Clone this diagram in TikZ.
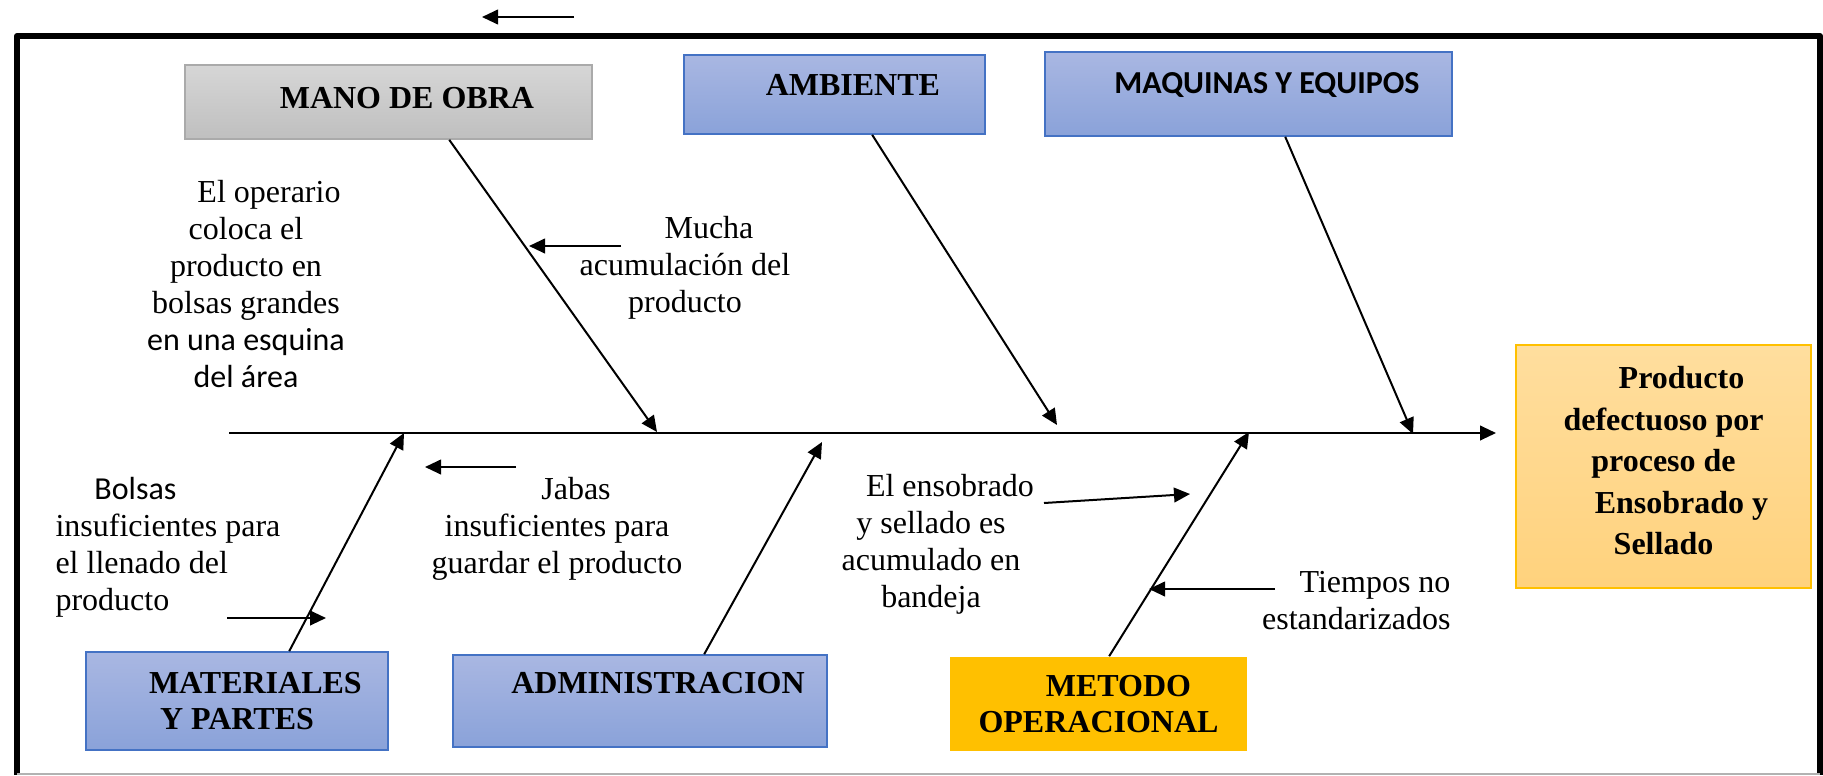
\documentclass[tikz,border=0pt]{standalone}
\usepackage{fontspec}
\setmainfont{Liberation Serif}
\newfontfamily\calibri{Carlito}
\usetikzlibrary{arrows.meta}

\definecolor{azularriba}{HTML}{A9B7E2}
\definecolor{azulabajo}{HTML}{8AA2D9}
\definecolor{azulborde}{HTML}{4472C4}
\definecolor{grisarriba}{HTML}{D6D6D6}
\definecolor{grisabajo}{HTML}{BFBFBF}
\definecolor{grisborde}{HTML}{AAAAAA}
\definecolor{naranjaarriba}{HTML}{FFDE9E}
\definecolor{naranjaabajo}{HTML}{FFD27D}
\definecolor{ambar}{HTML}{FFC000}

\begin{document}
\begin{tikzpicture}[x=0.375pt, y=-0.375pt,
    bone/.style={line width=0.75pt, -{Triangle[length=6pt,width=5.5pt]}},
    causa/.style={inner sep=0pt, align=center, font=\fontsize{12}{13.9}\selectfont},
    caja/.style={inner sep=0pt, line width=0.6pt, font=\bfseries\fontsize{12}{13.5}\selectfont},
    cajaazul/.style={caja, draw=azulborde, top color=azularriba, bottom color=azulabajo},
    cajagris/.style={caja, draw=grisborde, top color=grisarriba, bottom color=grisabajo}]
    \useasboundingbox (0,0) rectangle (1823,775);

    % marco
    \draw[line width=2.2pt, line join=round] (17,775) -- (17,36) -- (1820,36) -- (1820,775);
    \draw[gray!60, line width=0.8pt] (17,774) -- (1820,774);
    \coordinate (s1) at (574,17);
    \coordinate (s2) at (482,17);
    \draw[bone] (s1) -- (s2);

    % categorias de arriba
    \node[cajagris, minimum width=152.6pt, text height=16.31pt, text depth=11.44pt] (obra) at (388.5,102) {\hspace*{13.8pt}MANO DE OBRA};
    \node[cajaazul, minimum width=112.9pt, text height=15.19pt, text depth=14.44pt] (ambiente) at (834.5,94.5) {\hspace*{13.8pt}AMBIENTE};
    \node[cajaazul, minimum width=152.6pt, text height=15.5pt, text depth=16pt, font=\calibri\bfseries\fontsize{12}{13.5}\selectfont] (maquinas) at (1248.5,94) {\hspace*{13.8pt}MAQUINAS Y EQUIPOS};

    % categorias de abajo
    \node[cajaazul, minimum width=113.25pt, minimum height=36.75pt, align=center] (materiales) at (237,701) {\hspace*{13.8pt}MATERIALES\\ Y PARTES};
    \node[cajaazul, minimum width=140.25pt, text height=14.44pt, text depth=20.06pt] (admin) at (640,701) {\hspace*{13.5pt}ADMINISTRACION};
    \node[caja, fill=ambar, minimum width=111.4pt, minimum height=35.25pt, align=center] (metodo) at (1098.5,704) {\hspace*{15pt}METODO\\ OPERACIONAL};

    % efecto
    \node[caja, draw=ambar, top color=naranjaarriba, bottom color=naranjaabajo, minimum width=110.6pt, minimum height=91.1pt, align=center, font=\bfseries\fontsize{12}{15.6}\selectfont] (producto) at (1663.5,466.5)
        {\hspace*{13.5pt}Producto\\ defectuoso por\\ proceso de\\ \hspace*{13.5pt}Ensobrado y\\ Sellado\rule[-4.5pt]{0pt}{4.5pt}};

    % espina
    \coordinate (cola) at (229,433);
    \coordinate (cabeza) at (1496,433);
    \draw[bone] (cola) -- (cabeza);

    % huesos
    \coordinate (pObra) at (657,432);
    \coordinate (pAmb) at (1057,425);
    \coordinate (pMaq) at (1413,434);
    \coordinate (pMat) at (404,433);
    \coordinate (pAdm) at (822,442);
    \coordinate (pMet) at (1249,432);
    \draw[bone] (obra.south west) ++(265,0) -- (pObra);
    \draw[bone] (ambiente.south west) ++(189,0) -- (pAmb);
    \draw[bone] (maquinas.south west) ++(241,0) -- (pMaq);
    \draw[bone] (materiales.north west) ++(204,0) -- (pMat);
    \draw[bone] (admin.north west) ++(252,0) -- (pAdm);
    \draw[bone] (metodo.north west) ++(160,0) -- (pMet);

    % causas
    \node[causa] (operario) at (246,284) {\hspace*{17.25pt}El operario\\ coloca el\\ producto en\\ bolsas grandes\\ {\calibri en una esquina}\\ {\calibri del área}};
    \node[causa] (mucha) at (685,268) {\hspace*{18pt}Mucha\\ acumulación del\\ producto};
    \node[causa, align=left, anchor=west] (bolsas) at (55,547) {\hspace*{14.6pt}{\calibri Bolsas}\\ insuficientes para\\ el llenado del\\ producto};
    \node[causa] (jabas) at (557,529) {\hspace*{14.25pt}Jabas\\ insuficientes para\\ guardar el producto};
    \node[causa] (ensobrado) at (931,544) {\hspace*{14.25pt}El ensobrado\\ y sellado es\\ acumulado en\\ bandeja};
    \node[causa, align=right, anchor=east] (tiempos) at (1451,601) {Tiempos no\\ estandarizados};

    % flechas de causas
    \coordinate (m1) at (621,246);
    \coordinate (m2) at (529,246);
    \coordinate (j1) at (516,467);
    \coordinate (j2) at (425,467);
    \coordinate (b1) at (227,618);
    \coordinate (b2) at (326,618);
    \coordinate (e1) at (1044,503);
    \coordinate (e2) at (1190,494);
    \coordinate (t1) at (1275,589);
    \coordinate (t2) at (1149,589);
    \draw[bone] (m1) -- (m2);
    \draw[bone] (j1) -- (j2);
    \draw[bone] (b1) -- (b2);
    \draw[bone] (e1) -- (e2);
    \draw[bone] (t1) -- (t2);
\end{tikzpicture}
\end{document}
